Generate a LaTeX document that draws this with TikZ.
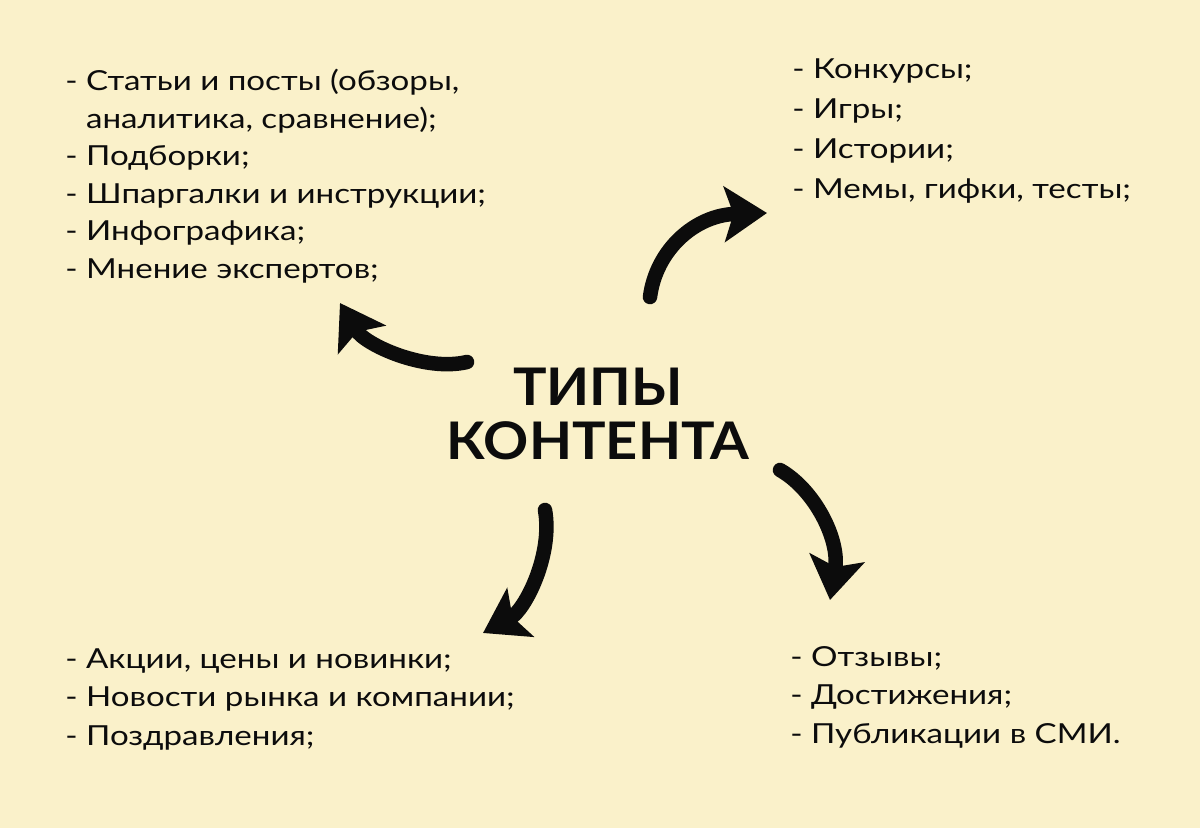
\documentclass[tikz,border=0pt]{standalone}
\usepackage{fontspec}
\setmainfont{Lato}[FakeStretch=1.2]
\newfontfamily\titlefont{Lato}[FakeStretch=1.08]
\usetikzlibrary{arrows.meta}
\definecolor{bgyellow}{RGB}{250,241,202}
\definecolor{ink}{RGB}{12,12,12}

\begin{document}
\begin{tikzpicture}[x=0.02cm, y=-0.02cm,
  items/.style={anchor=base west, align=left, inner sep=0pt, text=ink,
    font=\fontsize{15.7}{21.8}\selectfont},
  title/.style={align=center, inner sep=0pt, text=ink,
    font=\titlefont\fontsize{29.5}{31.2}\selectfont\bfseries},
  brush/.style={ink, line width=0.29cm, line cap=round,
    -{Stealth[length=0.85cm, width=1.1cm, inset=0.18cm]}}]

%---------------------------------------
% Background
%---------------------------------------
\fill[bgyellow] (0,0) rectangle (1200,828);
\useasboundingbox (0,0) rectangle (1200,828);

%---------------------------------------
% Title
%---------------------------------------
\node[title] (types) at (598,414) {ТИПЫ\\КОНТЕНТА};

%---------------------------------------
% Lists of content (placed at last baseline)
%---------------------------------------
\node[items, font=\fontsize{15.7}{21.3}\selectfont] (useful) at (65,278)
  {- Статьи и посты (обзоры,\\\hphantom{- }аналитика, сравнение);\\- Подборки;\\- Шпаргалки и инструкции;\\- Инфографика;\\- Мнение экспертов;};
\node[items, font=\fontsize{15.7}{22.6}\selectfont] (fun) at (792,198)
  {- Конкурсы;\\- Игры;\\- Истории;\\- Мемы, гифки, тесты;};
\node[items] (sales) at (65,745)
  {- Акции, цены и новинки;\\- Новости рынка и компании;\\- Поздравления;};
\node[items] (image) at (790,743)
  {- Отзывы;\\- Достижения;\\- Публикации в СМИ.};

%---------------------------------------
% Brush arrows (free ends)
%---------------------------------------
\coordinate (tailA) at (467,362);
\coordinate (headA) at (340,303);
\coordinate (tailB) at (650,297);
\coordinate (headB) at (767,213);
\coordinate (tailC) at (780,470);
\coordinate (headC) at (830,600);
\coordinate (tailD) at (545,510);
\coordinate (headD) at (483,633);

\draw[brush] (tailA) .. controls (425,372) and (365,345) .. (headA);
\draw[brush] (tailB) .. controls (656,250) and (695,215) .. (headB);
\draw[brush] (tailC) .. controls (815,490) and (840,540) .. (headC);
\draw[brush] (tailD) .. controls (553,555) and (525,610) .. (headD);

\end{tikzpicture}
\end{document}
